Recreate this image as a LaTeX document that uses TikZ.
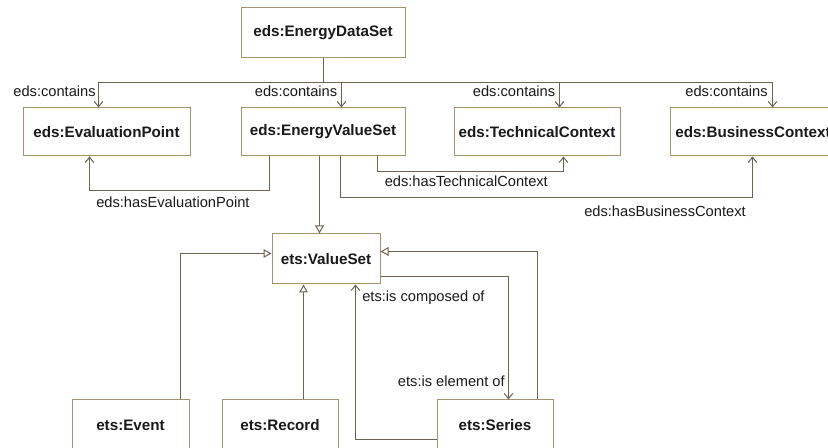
\documentclass[tikz,border=0pt]{standalone}
\usepackage{fontspec}
\setmainfont{Liberation Sans}
\usetikzlibrary{arrows.meta,calc}
\definecolor{boxc}{HTML}{A3926E}
\definecolor{linec}{HTML}{6B6353}
\begin{document}
\begin{tikzpicture}[x=0.75pt,y=-0.75pt,
  cls/.style={draw=boxc, line width=0.75pt, fill=white, inner sep=0pt,
    font=\fontsize{11.4pt}{13pt}\selectfont\bfseries, text=black!90},
  conn/.style={draw=linec, line width=0.75pt},
  assoc/.style={conn, -{Straight Barb[length=4pt,width=6.5pt]}},
  inherit/.style={conn, -{Triangle[open,length=6pt,width=6.5pt]}},
  lbl/.style={inner sep=0pt, font=\fontsize{11pt}{13pt}\selectfont, text=black!90}]
\useasboundingbox (0,0) rectangle (828,448);
\clip (0,0) rectangle (828,448);

% classes
\node[cls, minimum width=123pt, minimum height=37.5pt] (eds) at (323,33) {eds:EnergyDataSet};
\node[cls, minimum width=125.25pt, minimum height=36pt] (evp) at (106.5,132) {eds:EvaluationPoint};
\node[cls, minimum width=123pt, minimum height=36pt] (evs) at (323,132) {eds:EnergyValueSet};
\node[cls, minimum width=124.5pt, minimum height=36pt] (tc) at (537,132) {eds:TechnicalContext};
\node[cls, minimum width=124.5pt, minimum height=36pt] (bc) at (753,132) {eds:BusinessContext};
\node[cls, minimum width=81pt, minimum height=37.5pt] (vs) at (326,259) {ets:ValueSet};
\node[cls, minimum width=87.75pt, minimum height=37.5pt] (event) at (130.5,425) {ets:Event};
\node[cls, minimum width=87pt, minimum height=37.5pt] (record) at (280,425) {ets:Record};
\node[cls, minimum width=87pt, minimum height=37.5pt] (series) at (495,425) {ets:Series};

% contains
\coordinate (split) at ($(eds.south)+(0,24)$);
\draw[conn] (eds.south) -- (split);
\draw[assoc] (split) -| ($(evp.north west)+(76,0)$);
\draw[assoc] (split) -| ($(evs.north west)+(101,0)$);
\draw[assoc] (split) -| ($(tc.north west)+(106,0)$);
\draw[assoc] (split) -| ($(bc.north west)+(103,0)$);
\node[lbl, anchor=base east] (l1) at (96,96.5) {eds:contains};
\node[lbl, anchor=base east] (l2) at (337.5,96.5) {eds:contains};
\node[lbl, anchor=base east] (l3) at (555.5,96.5) {eds:contains};
\node[lbl, anchor=base east] (l4) at (768,96.5) {eds:contains};

% has...
\draw[assoc] ($(evs.south west)+(29,0)$) -- ++(0,34) -| ($(evp.south west)+(67,0)$);
\node[lbl, anchor=base west] (l5) at (96,208) {eds:hasEvaluationPoint};
\draw[assoc] ($(evs.south west)+(137,0)$) -- ++(0,15) -| ($(tc.south west)+(110,0)$);
\node[lbl, anchor=base west] (l6) at (384.5,187) {eds:hasTechnicalContext};
\draw[assoc] ($(evs.south west)+(100,0)$) -- ++(0,41) -| ($(bc.south west)+(83,0)$);
\node[lbl, anchor=base west] (l7) at (584,217) {eds:hasBusinessContext};

% inheritance
\draw[inherit] ($(evs.south west)+(79,0)$) -- ($(vs.north west)+(48,0)$);
\draw[inherit] ($(event.north west)+(109,0)$) |- ($(vs.north west)+(0,20)$);
\draw[inherit] ($(record.north west)+(82,0)$) -- ($(vs.south west)+(32,0)$);
\draw[inherit] ($(series.north west)+(101,0)$) |- ($(vs.north east)+(0,18)$);

% composition
\draw[assoc] ($(vs.north east)+(0,43)$) -| ($(series.north west)+(72,0)$);
\node[lbl, anchor=base east] (l8) at (505,386.5) {ets:is element of};
\draw[assoc] ($(series.north west)+(0,40)$) -| ($(vs.south west)+(84,0)$);
\node[lbl, anchor=base west] (l9) at (362,302) {ets:is composed of};
\end{tikzpicture}
\end{document}
